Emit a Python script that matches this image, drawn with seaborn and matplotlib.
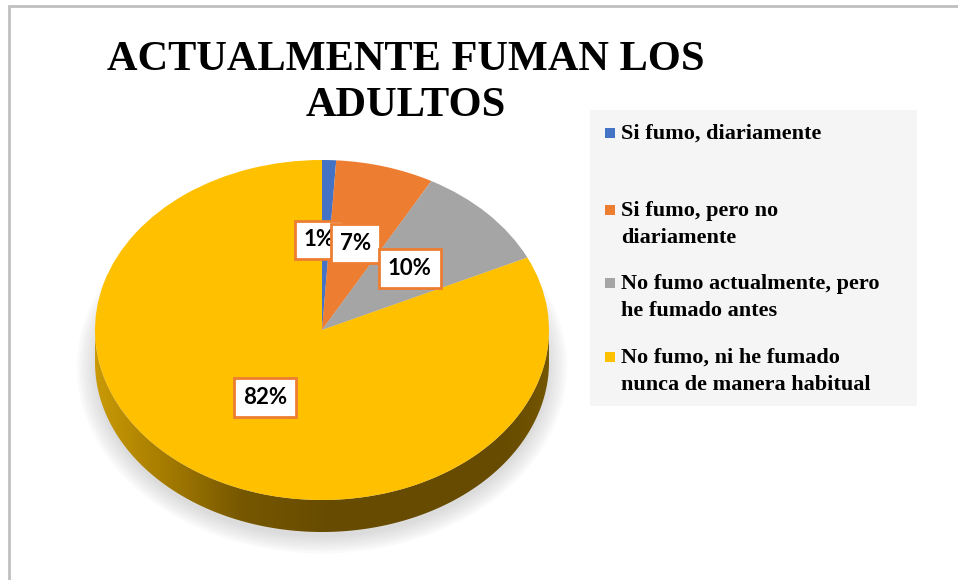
import textwrap
import numpy as np
import matplotlib.pyplot as plt
import matplotlib.patches as mpatches
from matplotlib.colors import LinearSegmentedColormap
import seaborn as sns

# data
categories = [
    "Si fumo, diariamente",
    "Si fumo, pero no diariamente",
    "No fumo actualmente, pero he fumado antes",
    "No fumo, ni he fumado nunca de manera habitual",
]
percentages = [1, 7, 10, 82]
colors = ["#4472C4", "#ED7D31", "#A5A5A5", "#FFC000"]
title = "ACTUALMENTE FUMAN LOS\nADULTOS"

sns.set_theme(style="white")
plt.rcParams["font.family"] = ["Liberation Serif", "DejaVu Serif"]
palette = sns.color_palette(colors)

W, H = 958, 580
fig = plt.figure(figsize=(W / 100, H / 100), dpi=100)


def px_rect(x0, y0, x1, y1):
    """pixel box (origin top-left) -> figure fraction rect"""
    return [x0 / W, 1 - y1 / H, (x1 - x0) / W, (y1 - y0) / H]


# pie geometry in pixels: centre, horizontal / vertical radius, side depth
cx, cy, rx, ry = 322, 330, 227, 170
xlim, ylim = (-1.3, 1.3), (-1.4, 1.2)
ax = fig.add_axes(px_rect(cx + xlim[0] * rx, cy - ylim[1] * ry,
                          cx + xlim[1] * rx, cy - ylim[0] * ry))

wedges, _ = ax.pie(percentages, colors=palette, startangle=90, counterclock=False,
                   wedgeprops=dict(linewidth=0, zorder=3))
ax.set_aspect("auto")
ax.set_xlim(xlim)
ax.set_ylim(ylim)

# 3D side of the disc
depth = 32 / ry
t = np.linspace(np.pi, 2 * np.pi, 300)
outline = np.vstack([np.column_stack([np.cos(t), np.sin(t)]),
                     np.column_stack([np.cos(t[::-1]), np.sin(t[::-1]) - depth])])
side = mpatches.Polygon(outline, closed=True, facecolor="none", edgecolor="none", zorder=2)
ax.add_patch(side)
side_cmap = LinearSegmentedColormap.from_list(
    "side", [(0, "#c99a06"), (0.15, "#a67c00"), (0.32, "#775800"),
             (0.5, "#684c00"), (0.9, "#664b00"), (1, "#745600")])
im = ax.imshow(np.linspace(0, 1, 256).reshape(1, -1), cmap=side_cmap,
               extent=[-1, 1, -1 - depth, 0], aspect="auto", zorder=2)
im.set_clip_path(side)

# soft shadow under the disc
for k in np.linspace(0.0, 0.08, 8):
    ax.add_patch(mpatches.Ellipse((0, -depth - 0.03), 2 * (1 + k), 2 * (1 + k * 1.2),
                                  facecolor="#808080", edgecolor="none", alpha=0.035, zorder=1))

# data labels (the big slice's label sits a bit closer to the centre, as Excel does in 3D)
for w, p in zip(wedges, percentages):
    mid = np.deg2rad((w.theta1 + w.theta2) / 2)
    r = 0.53 if p < 50 else 0.47
    ax.text(r * np.cos(mid) - (0.03 if p < 5 else 0), r * np.sin(mid), f"{p}%",
            ha="center", va="center",
            fontsize=16, family=["Lato", "DejaVu Sans"], fontweight="bold", color="black",
            zorder=5,
            bbox=dict(boxstyle="square,pad=0.4", facecolor="white",
                      edgecolor="#ED7D31", linewidth=2))

# title
fig.text(406 / W, 1 - 83 / H, title, ha="center", va="center", fontsize=30.5,
         fontweight="bold", linespacing=1.3, color="black")

# legend
fig.add_artist(mpatches.Rectangle((590 / W, 1 - 406 / H), 327 / W, 296 / H,
                                  transform=fig.transFigure, facecolor="#F5F5F5",
                                  edgecolor="none"))
legend_rows_px = [133, 210, 283, 357]
line_px = 27
for label, col, yp in zip(categories, palette, legend_rows_px):
    text = textwrap.fill(label, 25)
    n_lines = text.count("\n") + 1
    fig.add_artist(mpatches.Rectangle((605 / W, 1 - (yp + 5) / H), 10 / W, 10 / H,
                                      transform=fig.transFigure, facecolor=col,
                                      edgecolor="none"))
    # va="baseline" anchors the last line of a multi-line text
    fig.text(621 / W, 1 - (yp + 6 + line_px * (n_lines - 1)) / H, text, ha="left",
             va="baseline", fontsize=16, fontweight="bold", linespacing=1.48,
             color="black")

# chart area border (top and left edges visible)
fig.add_artist(mpatches.Rectangle((9 / W, -0.05), 1.1, 1.05 - 6 / H,
                                  transform=fig.transFigure, fill=False,
                                  edgecolor="#C0C0C0", linewidth=2))

fig.savefig("out.png", dpi=100)
